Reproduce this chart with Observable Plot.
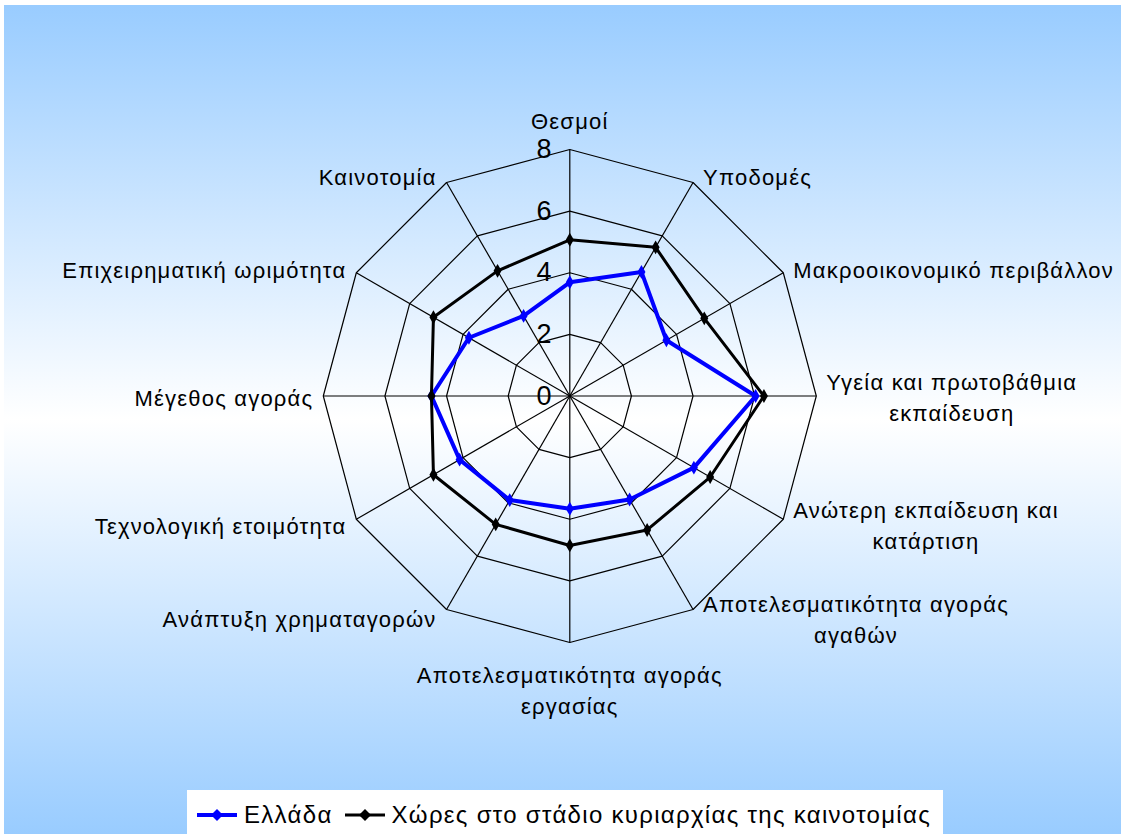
<!DOCTYPE html>
<html><head><meta charset="utf-8">
<script src="https://cdn.jsdelivr.net/npm/d3@7"></script>
<script src="https://cdn.jsdelivr.net/npm/@observablehq/plot@0.6"></script>
<style>
body{margin:0;background:#fff;font-family:"Liberation Sans",Arial,sans-serif;}
#chart{position:absolute;left:4px;top:5px;width:1117px;height:829px;background:linear-gradient(#99ccff,#ffffff 50%,#99ccff);overflow:hidden}
#plot{position:absolute;left:0;top:0}
#plot text{letter-spacing:1.2px}
#legend{position:absolute;left:183px;top:785px;width:756px;height:49px;background:#fff;display:flex;align-items:center;font-size:24px;letter-spacing:1.3px;color:#000;white-space:nowrap}
#legend .it{display:flex;align-items:center}
#legend svg{display:block}
</style>
</head><body>
<div id="chart"><div id="plot"></div><div id="legend"></div></div>
<script>
const categories = [
  "Θεσμοί",
  "Υποδομές",
  "Μακροοικονομικό περιβάλλον",
  "Υγεία και πρωτοβάθμια\nεκπαίδευση",
  "Ανώτερη εκπαίδευση και\nκατάρτιση",
  "Αποτελεσματικότητα αγοράς\nαγαθών",
  "Αποτελεσματικότητα αγοράς\nεργασίας",
  "Ανάπτυξη χρηματαγορών",
  "Τεχνολογική ετοιμότητα",
  "Μέγεθος αγοράς",
  "Επιχειρηματική ωριμότητα",
  "Καινοτομία"
];
const greece = [3.69, 4.65, 3.62, 6.03, 4.65, 3.88, 3.66, 3.9, 4.13, 4.49, 3.78, 3.0];
const innovation = [5.07, 5.57, 5.04, 6.3, 5.26, 5.02, 4.85, 4.81, 5.11, 4.49, 5.11, 4.69];
const seriesNames = ["Ελλάδα", "Χώρες στο στάδιο κυριαρχίας της καινοτομίας"];
const seriesColors = ["#0000ff", "#000000"];
const ticks = [0, 2, 4, 6, 8];

const N = categories.length;
const maxV = 8;
const ang = i => i * 2 * Math.PI / N;
const px = (v, i) => v * Math.sin(ang(i));
const py = (v, i) => v * Math.cos(ang(i));

const rings = [];
for (const t of ticks.filter(t => t > 0)) {
  for (let k = 0; k <= N; k++) rings.push({ring: t, x: px(t, k % N), y: py(t, k % N)});
}
const spokes = categories.map((c, i) => ({x2: px(maxV, i), y2: py(maxV, i)}));
const pts = (vals, s) => vals.map((v, i) => ({s, cat: categories[i], x: px(v, i), y: py(v, i)}));
const gPts = pts(greece, seriesNames[0]);
const iPts = pts(innovation, seriesNames[1]);

const W = 1117, H = 780;
const cx = 565.3, cy = 390.5, R = 246.5;
const fs = 22, lh = 31, ls = 1.2;
const ctx = document.createElement("canvas").getContext("2d");
ctx.font = `${fs}px "Liberation Sans"`;
const tw = s => Math.max(...s.split("\n").map(l => ctx.measureText(l).width + ls * l.length));

const labelMarks = categories.map((c, i) => {
  const s = Math.sin(ang(i)), co = Math.cos(ang(i));
  const n = c.split("\n").length;
  let dx = 0, dy = 0;
  if (Math.abs(s) < 0.01) {
    dy = co > 0 ? -30 - (n - 1) * lh / 2 : 31 + (n - 1) * lh / 2;
  } else {
    dx = Math.sign(s) * (10 + tw(c) / 2);
    dy = -9 * co;
  }
  return Plot.text([c], {x: px(maxV, i), y: py(maxV, i), text: d => d, textAnchor: "middle",
    lineAnchor: "middle", lineHeight: lh / fs, dx, dy, fontSize: fs, fill: "#000"});
});

const plot = Plot.plot({
  width: W, height: H,
  marginLeft: cx - R, marginRight: W - cx - R, marginTop: cy - R, marginBottom: H - cy - R,
  x: {domain: [-maxV, maxV], axis: null},
  y: {domain: [-maxV, maxV], axis: null},
  style: {background: "transparent", fontFamily: '"Liberation Sans", Arial, sans-serif', overflow: "visible"},
  marks: [
    Plot.line(rings, {x: "x", y: "y", z: "ring", stroke: "#000", strokeWidth: 1.2}),
    Plot.link(spokes, {x1: 0, y1: 0, x2: "x2", y2: "y2", stroke: "#000", strokeWidth: 1.2}),
    Plot.line(gPts, {x: "x", y: "y", curve: "linear-closed", stroke: seriesColors[0], strokeWidth: 4}),
    Plot.dot(gPts, {x: "x", y: "y", symbol: "diamond", r: 4.2, fill: seriesColors[0], stroke: "none"}),
    Plot.line(iPts, {x: "x", y: "y", curve: "linear-closed", stroke: seriesColors[1], strokeWidth: 3}),
    Plot.dot(iPts, {x: "x", y: "y", symbol: "diamond", r: 4.2, fill: seriesColors[1], stroke: "none"}),
    Plot.text(ticks, {x: 0, y: d => d, text: d => String(d), textAnchor: "end", dx: -17, fontSize: 27, fill: "#000"}),
    ...labelMarks
  ]
});
document.getElementById("plot").appendChild(plot);

const legend = document.getElementById("legend");
seriesNames.forEach((name, k) => {
  const it = document.createElement("div");
  it.className = "it";
  it.style.marginLeft = k === 0 ? "10px" : "12px";
  const c = seriesColors[k];
  it.innerHTML = `<svg width="40" height="14"><line x1="0" y1="7" x2="40" y2="7" stroke="${c}" stroke-width="${k===0?4:3}"/><path d="M20,1 L26,7 L20,13 L14,7 Z" fill="${c}"/></svg><span style="margin-left:7px">${name}</span>`;
  legend.appendChild(it);
});
</script>
</body></html>
